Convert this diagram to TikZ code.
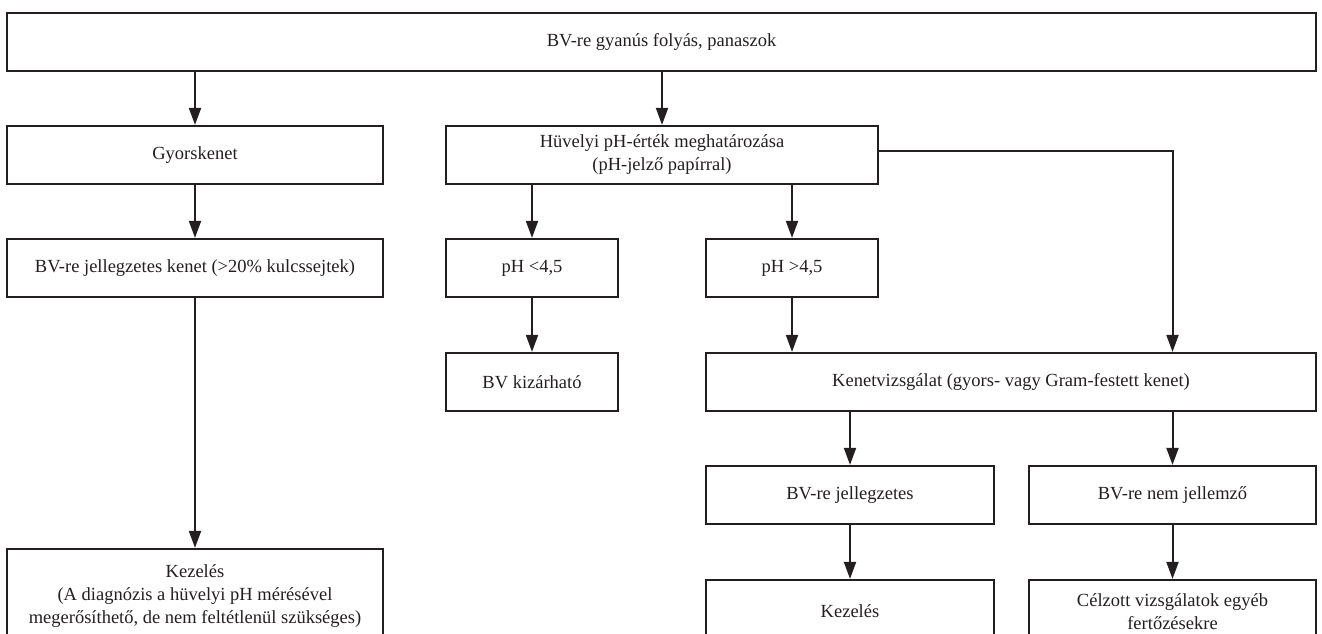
\documentclass[tikz,border=0pt]{standalone}
\usepackage{fontspec}
\setmainfont{Liberation Serif}
\usetikzlibrary{arrows.meta}
\definecolor{ink}{HTML}{231F20}
\begin{document}
\begin{tikzpicture}[x=1pt,y=-1pt,
  box/.style={draw=ink, line width=2.2pt, text=ink, inner sep=0pt, align=center,
    font=\fontsize{18.5}{23}\selectfont},
  arr/.style={draw=ink, line width=2pt, -{Triangle[width=12pt,length=17pt]}}]
\clip (0,0) rectangle (1322,634);
% row 1
\node[box, minimum width=1309pt, minimum height=58pt] (top) at (661.5,42) {BV-re gyanús folyás, panaszok};
% row 2
\node[box, minimum width=376pt, minimum height=58pt] (gy) at (195,155) {Gyorskenet};
\node[box, minimum width=432pt, minimum height=58pt] (huv) at (662,155) {Hüvelyi pH-érték meghatározása\\(pH-jelző papírral)};
% row 3
\node[box, minimum width=376pt, minimum height=58pt] (jk) at (195,268) {BV-re jellegzetes kenet (>20\% kulcssejtek)};
\node[box, minimum width=172pt, minimum height=58pt] (ph1) at (532,268) {pH <4,5};
\node[box, minimum width=172pt, minimum height=58pt] (ph2) at (792,268) {pH >4,5};
% row 4
\node[box, minimum width=172pt, minimum height=58pt] (kiz) at (532,382) {BV kizárható};
\node[box, minimum width=610pt, minimum height=58pt] (kenet) at (1011,382) {Kenetvizsgálat (gyors- vagy Gram-festett kenet)};
% row 5
\node[box, minimum width=288pt, minimum height=58pt] (jell) at (850,495) {BV-re jellegzetes};
\node[box, minimum width=287pt, minimum height=58pt] (nemj) at (1172.5,495) {BV-re nem jellemző};
% row 6
\node[box, minimum width=376pt, minimum height=95pt] (kezl) at (195,596.5) {Kezelés\\(A diagnózis a hüvelyi pH mérésével\\megerősíthető, de nem feltétlenül szükséges)};
\node[box, minimum width=288pt, minimum height=63pt] (kez) at (850,611.5) {Kezelés};
\node[box, minimum width=287pt, minimum height=63pt] (cel) at (1172.5,611.5) {Célzott vizsgálatok egyéb\\fertőzésekre};
% connectors
\draw[arr] (top.south -| gy.north) -- (gy.north);
\draw[arr] (top.south -| huv.north) -- (huv.north);
\draw[arr] (gy.south) -- (jk.north);
\draw[arr] (jk.south) -- (kezl.north);
\draw[arr] (huv.south -| ph1.north) -- (ph1.north);
\draw[arr] (huv.south -| ph2.north) -- (ph2.north);
\draw[arr] ([yshift=4pt]huv.east) -| (kenet.north -| nemj.north);
\draw[arr] (ph1.south) -- (kiz.north);
\draw[arr] (ph2.south) -- (kenet.north -| ph2.south);
\draw[arr] (kenet.south -| jell.north) -- (jell.north);
\draw[arr] (kenet.south -| nemj.north) -- (nemj.north);
\draw[arr] (jell.south) -- (kez.north);
\draw[arr] (nemj.south) -- (cel.north);
\end{tikzpicture}
\end{document}
